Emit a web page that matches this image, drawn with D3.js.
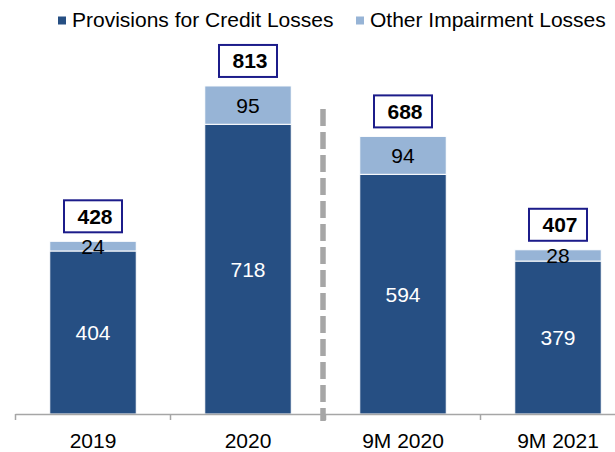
<!DOCTYPE html>
<html>
<head>
<meta charset="utf-8">
<script src="https://cdn.jsdelivr.net/npm/d3@7"></script>
<style>
  html, body { margin: 0; padding: 0; background: #fff; }
  svg { display: block; }
  text { font-family: "Liberation Sans", Arial, Helvetica, sans-serif; }
</style>
</head>
<body>
<svg id="chart" width="615" height="452"></svg>
<script>
// Impairment losses by period (stacked)
const categories = ["2019", "2020", "9M 2020", "9M 2021"];
const provisions = [404, 718, 594, 379];
const otherImpairment = [24, 95, 94, 28];
const totals = [428, 813, 688, 407];
const seriesNames = ["Provisions for Credit Losses", "Other Impairment Losses"];

const darkBlue = "#264f83";
const lightBlue = "#97b4d6";
const boxBlue = "#1c1c8a";
const axisGrey = "#a6a6a6";

const svg = d3.select("#chart");
const fontSize = 21;
const baseY = 414;

const x = d3.scaleBand()
  .domain(categories)
  .range([15.5, 635.5])
  .paddingInner(0.442)
  .paddingOuter(0.221);

const y = d3.scaleLinear()
  .domain([0, 1000])
  .range([baseY, 10.5]);

const rows = categories.map((c, i) => ({
  category: c,
  provisions: provisions[i],
  other: otherImpairment[i],
  total: totals[i]
}));

const stack = d3.stack().keys(["provisions", "other"]);
const layers = stack(rows);
const colors = [darkBlue, lightBlue];

// bars
const gBars = svg.append("g");
layers.forEach((layer, li) => {
  gBars.selectAll(null)
    .data(layer)
    .join("rect")
    .attr("x", d => x(d.data.category))
    .attr("width", x.bandwidth())
    .attr("y", d => y(d[1]))
    .attr("height", d => y(d[0]) - y(d[1]))
    .attr("fill", colors[li])
    .attr("stroke", "#fff")
    .attr("stroke-width", 1);
});

// segment value labels
layers.forEach((layer, li) => {
  gBars.selectAll(null)
    .data(layer)
    .join("text")
    .attr("x", d => x(d.data.category) + x.bandwidth() / 2)
    .attr("y", d => (y(d[0]) + y(d[1])) / 2 + 7.5)
    .attr("text-anchor", "middle")
    .attr("font-size", fontSize)
    .attr("fill", li === 0 ? "#fff" : "#000")
    .text(d => d[1] - d[0]);
});

// total boxes
const boxW = 58, boxH = 32, boxGap = 9;
const gTot = svg.append("g");
rows.forEach(r => {
  const cx = x(r.category) + x.bandwidth() / 2;
  const top = y(r.total) - boxGap - boxH;
  gTot.append("rect")
    .attr("x", cx - boxW / 2)
    .attr("y", top)
    .attr("width", boxW)
    .attr("height", boxH)
    .attr("fill", "#fff")
    .attr("stroke", boxBlue)
    .attr("stroke-width", 2);
  gTot.append("text")
    .attr("x", cx + 2)
    .attr("y", top + boxH / 2 + 7.5)
    .attr("text-anchor", "middle")
    .attr("font-size", fontSize)
    .attr("font-weight", "bold")
    .attr("fill", "#000")
    .text(r.total);
});

// x axis
const axis = svg.append("g")
  .attr("transform", `translate(0,${baseY})`)
  .call(d3.axisBottom(x).tickSize(0).tickPadding(0));
axis.select(".domain").remove();
axis.selectAll("text")
  .attr("y", 34)
  .attr("dy", null)
  .attr("font-size", fontSize)
  .attr("font-family", "Liberation Sans, Arial, sans-serif")
  .attr("fill", "#000");

svg.append("line")
  .attr("x1", 15.5).attr("x2", 615)
  .attr("y1", baseY + 0.5).attr("y2", baseY + 0.5)
  .attr("stroke", axisGrey).attr("stroke-width", 1.5);

const boundaries = d3.range(categories.length + 1).map(i => x.range()[0] + i * x.step());
svg.selectAll(null)
  .data(boundaries)
  .join("line")
  .attr("x1", d => d).attr("x2", d => d)
  .attr("y1", baseY).attr("y2", baseY + 6)
  .attr("stroke", axisGrey).attr("stroke-width", 1.5);

// dashed separator between full years and nine-month periods
const sepX = boundaries[2] - 2.5;
svg.append("line")
  .attr("x1", sepX).attr("x2", sepX)
  .attr("y1", 109).attr("y2", 421)
  .attr("stroke", axisGrey)
  .attr("stroke-width", 5.5)
  .attr("stroke-dasharray", "17,6");

// legend
const legend = [
  { name: seriesNames[0], color: darkBlue, sx: 58, tx: 72 },
  { name: seriesNames[1], color: lightBlue, sx: 356, tx: 370 }
];
const gLeg = svg.append("g");
legend.forEach(l => {
  gLeg.append("rect")
    .attr("x", l.sx).attr("y", 16.5)
    .attr("width", 8).attr("height", 8)
    .attr("fill", l.color);
  gLeg.append("text")
    .attr("x", l.tx).attr("y", 27)
    .attr("font-size", fontSize)
    .attr("fill", "#000")
    .text(l.name);
});
</script>
</body>
</html>
